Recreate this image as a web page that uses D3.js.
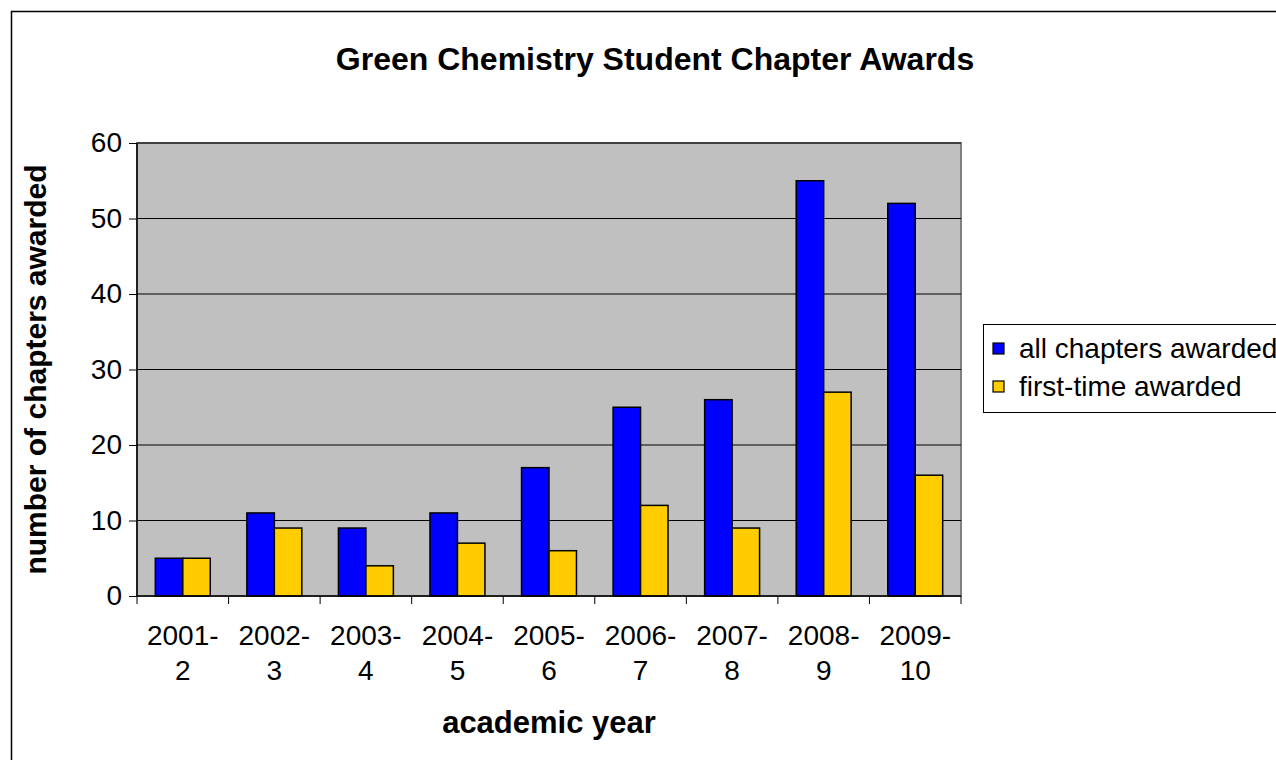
<!DOCTYPE html>
<html>
<head>
<meta charset="utf-8">
<script src="https://cdn.jsdelivr.net/npm/d3@7"></script>
<style>
  body { margin: 0; background: #fff; }
  svg { display: block; font-family: Arial, "Liberation Sans", sans-serif; }
</style>
</head>
<body>
<div class="svg-container"></div>
<script>
const years = ["2001-2", "2002-3", "2003-4", "2004-5", "2005-6", "2006-7", "2007-8", "2008-9", "2009-10"];
const yearLines = [["2001-", "2"], ["2002-", "3"], ["2003-", "4"], ["2004-", "5"], ["2005-", "6"],
                   ["2006-", "7"], ["2007-", "8"], ["2008-", "9"], ["2009-", "10"]];
const allAwarded = [5, 11, 9, 11, 17, 25, 26, 55, 52];
const firstTime = [5, 9, 4, 7, 6, 12, 9, 27, 16];
const seriesNames = ["all chapters awarded", "first-time awarded"];
const seriesColors = ["#0000ff", "#ffcc00"];
const yTicks = [0, 10, 20, 30, 40, 50, 60];

const W = 1276, H = 760;
const margin = { top: 143, left: 137, right: W - 961, bottom: H - 596 };

const svg = d3.select("div.svg-container")
  .append("svg")
  .attr("width", W)
  .attr("height", H);

// outer chart frame (runs off the right and bottom)
svg.append("rect")
  .attr("x", 11.5).attr("y", 11.5)
  .attr("width", 1400).attr("height", 900)
  .attr("fill", "#fff")
  .attr("stroke", "#000")
  .attr("stroke-width", 1.5);

const x = d3.scaleBand(years, [margin.left, W - margin.right]);
const y = d3.scaleLinear([0, 60], [H - margin.bottom, margin.top]);

// plot area
svg.append("rect")
  .attr("x", margin.left).attr("y", margin.top)
  .attr("width", W - margin.right - margin.left)
  .attr("height", H - margin.bottom - margin.top)
  .attr("fill", "#c0c0c0")
  .attr("stroke", "#808080")
  .attr("stroke-width", 2);

// gridlines
svg.append("g")
  .selectAll("line")
  .data(yTicks.slice(1))
  .join("line")
  .attr("x1", margin.left).attr("x2", W - margin.right)
  .attr("y1", d => y(d)).attr("y2", d => y(d))
  .attr("stroke", "#000")
  .attr("stroke-width", 1);

// bars: two bars of 30% band each, centred in the band
const barW = x.bandwidth() * 0.3;
const groupOff = (x.bandwidth() - 2 * barW) / 2;
const rows = years.map((yr, i) => [allAwarded[i], firstTime[i]]);

svg.append("g")
  .selectAll("g")
  .data(rows)
  .join("g")
  .attr("transform", (d, i) => `translate(${x(years[i]) + groupOff},0)`)
  .selectAll("rect")
  .data(d => d)
  .join("rect")
  .attr("x", (d, j) => j * barW)
  .attr("y", d => y(d))
  .attr("width", barW)
  .attr("height", d => y(0) - y(d))
  .attr("fill", (d, j) => seriesColors[j])
  .attr("stroke", "#000")
  .attr("stroke-width", 1.5);

// y axis
const yAxis = svg.append("g")
  .attr("transform", `translate(${margin.left},0)`)
  .call(d3.axisLeft(y).tickValues(yTicks).tickSize(8).tickPadding(7).tickFormat(d3.format("d")));
yAxis.select(".domain").attr("stroke", "#000").attr("stroke-width", 1.5).attr("d", `M0,${y(60)}V${y(0)}`);
yAxis.selectAll("text").attr("font-size", 28).attr("fill", "#000").attr("font-family", "Arial, 'Liberation Sans', sans-serif");

// x axis with boundary ticks
const xAxisG = svg.append("g");
xAxisG.append("line")
  .attr("x1", margin.left).attr("x2", W - margin.right)
  .attr("y1", y(0)).attr("y2", y(0))
  .attr("stroke", "#000").attr("stroke-width", 1.5);
xAxisG.selectAll("line.tick")
  .data(years.concat(["end"]))
  .join("line")
  .attr("class", "tick")
  .attr("x1", (d, i) => i < years.length ? x(d) : x.range()[1])
  .attr("x2", (d, i) => i < years.length ? x(d) : x.range()[1])
  .attr("y1", y(0)).attr("y2", y(0) + 8)
  .attr("stroke", "#000");
xAxisG.selectAll("text")
  .data(yearLines)
  .join("text")
  .attr("text-anchor", "middle")
  .attr("font-size", 28)
  .attr("transform", (d, i) => `translate(${x(years[i]) + x.bandwidth() / 2},0)`)
  .selectAll("tspan")
  .data(d => d)
  .join("tspan")
  .attr("x", 0)
  .attr("y", (d, j) => 645 + j * 35)
  .text(d => d);

// titles
svg.append("text")
  .attr("x", 655).attr("y", 70)
  .attr("text-anchor", "middle")
  .attr("font-size", 32).attr("font-weight", "bold")
  .text("Green Chemistry Student Chapter Awards");

svg.append("text")
  .attr("x", (margin.left + W - margin.right) / 2).attr("y", 733)
  .attr("text-anchor", "middle")
  .attr("font-size", 31).attr("font-weight", "bold")
  .text("academic year");

svg.append("text")
  .attr("transform", `translate(46,${(y(0) + y(60)) / 2}) rotate(-90)`)
  .attr("text-anchor", "middle")
  .attr("font-size", 30).attr("font-weight", "bold")
  .text("number of chapters awarded");

// legend
const legend = svg.append("g").attr("transform", "translate(983,324)");
legend.append("rect")
  .attr("x", 0.5).attr("y", 0.5)
  .attr("width", 400).attr("height", 88)
  .attr("fill", "#fff").attr("stroke", "#000");
const li = legend.selectAll("g.item")
  .data(seriesNames)
  .join("g")
  .attr("class", "item")
  .attr("transform", (d, i) => `translate(10,${19 + i * 38})`);
li.append("rect")
  .attr("width", 11).attr("height", 11)
  .attr("fill", (d, i) => seriesColors[i])
  .attr("stroke", "#000").attr("stroke-width", 1.2);
li.append("text")
  .attr("x", 26).attr("y", 15)
  .attr("font-size", 28)
  .text(d => d);
</script>
</body>
</html>
